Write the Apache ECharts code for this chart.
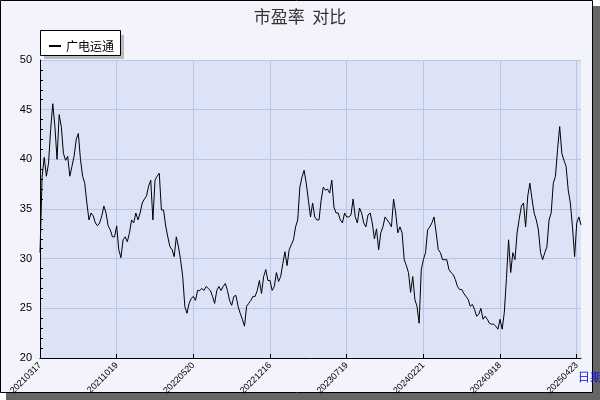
<!DOCTYPE html>
<html><head><meta charset="utf-8">
<script src="https://cdn.jsdelivr.net/npm/echarts@6/dist/echarts.min.js"></script>
<style>html,body{margin:0;padding:0;background:#fff}#c{width:600px;height:400px}</style>
</head><body><div id="c"></div>
<script>
var seriesName = '广电运通';
var tickLabels = ['20210317','20211019','20220520','20221216','20230719','20240221','20240918','20250423'];
var tickStep = 36;
var seg1 = [30.6,38.3,40.2,38.3,39.6,43.0,45.6,43.3,40,44.5,43.3,40.6,39.9,40.3,38.3,39.3,40.3,42,42.6,40,38.3,37.6,35.6,33.9,34.6,34.3,33.6,33.3,33.6,34.3,35.3,34.6,33.3,32.9,32.2,32.2,33.3];
var seg2 = [30.9,30.1,31.9,32.2,31.7,32.6,33.9,33.6,34.6,33.9,34.6,35.6,36,36.3,37.3,37.9,33.9,37.9,38.3,38.6,34.9,34.9,33.3,32.2,31.2,30.9,30.2,32.2,31.2,29.9,28.2,25.2,24.5,25.5,26,26.2];
var seg3 = [25.8,26.8,26.8,27,26.8,27.2,27,26.8,26.2,25.5,26.8,27.2,26.8,27.2,27.5,26.8,25.8,25.3,26.2,26.3,25.2,24.5,23.9,23.2,25.2,25.5,25.8,26.2,26.2,26.8,27.8,26.5,28.2,28.9,27.8,27.8];
var seg4 = [26.8,27.2,28.6,27.7,28.2,29.5,30.7,29.3,30.9,31.4,31.9,33.2,33.9,37.2,38.2,38.9,37.6,35.9,34.2,35.6,34.2,33.9,33.9,35.9,37.2,36.9,37,36.6,37.9,35.2,34.6,34.6,33.9,33.6,34.6,34.2];
var seg5 = [34.2,34.4,36,34.2,33.6,35.1,34.6,33.6,33.2,34.4,34.6,33.6,32,33,30.9,32.6,33.2,34.2,33.9,33.6,33.2,36,34.6,32.6,33.2,32.6,29.9,29.3,28.6,26.6,28.2,25.9,25.2,23.5,28.9,29.9];
var seg6 = [30.6,32.9,33.2,33.6,34.2,32.6,30.9,30.6,29.9,29.9,29.9,28.9,28.6,28.4,27.9,27.2,26.9,26.9,26.5,26.2,25.9,25.2,25.4,24.9,24.2,24.4,25,23.9,24.2,23.9,23.5,23.4,23.4,23.2,22.9,23.9];
var seg7 = [22.9,24.6,28,31.9,28.6,30.6,29.9,32.6,34,35.3,35.6,33.2,36.3,37.6,36,34.6,33.9,32.9,30.6,29.9,30.6,31.2,33.9,34.6,37.6,38.3,41,43.3,40.6,39.9,39.3,36.9,35.6,33.2,30.2,33.6,34.2,33.4];
var values = [].concat(seg1,seg2,seg3,seg4,seg5,seg6,seg7);
var cats = values.map(function(v,i){return String(i);});

var chart = echarts.init(document.getElementById('c'));
chart.setOption({
  animation:false,
  backgroundColor:'#ffffff',
  graphic:[
    {type:'rect',z:-10,shape:{x:6,y:6,width:594,height:394},style:{fill:'#666'}},
    {type:'rect',z:-9,shape:{x:0.5,y:0.5,width:592,height:392},style:{fill:'#f2f3fb',stroke:'#000',lineWidth:1}},
    {type:'rect',z:-8,shape:{x:44,y:35,width:80,height:24},style:{fill:'#bbb'}},
    {type:'rect',z:-7,shape:{x:40.5,y:30.5,width:80,height:25},style:{fill:'#fff',stroke:'#000',lineWidth:1}}
  ],
  title:{text:'市盈率  对比',left:'center',top:3,textStyle:{fontSize:17,fontWeight:'normal',color:'#333',fontFamily:'Noto Sans CJK SC'}},
  legend:{left:44,top:35,itemWidth:12,itemHeight:2,icon:'rect',textStyle:{fontSize:12,color:'#000',fontFamily:'Noto Sans CJK SC'},data:[{name:seriesName,itemStyle:{color:'#000'}}]},
  grid:{left:40,right:19,top:60,bottom:42,outerBoundsMode:'none',containLabel:false,backgroundColor:'#dce3f7',show:true,borderWidth:0},
  xAxis:{type:'category',data:cats,boundaryGap:false,
    name:'日期',nameLocation:'end',nameGap:-26,nameTextStyle:{color:'#0000ee',fontSize:12,padding:[14,0,0,0],verticalAlign:'top'},
    axisLine:{lineStyle:{color:'#000'}},
    axisTick:{interval:function(i){return i%tickStep===0;},length:4,inside:true,lineStyle:{color:'#000'}},
    splitLine:{show:true,interval:function(i){return i%tickStep===0;},lineStyle:{color:'#b8c4e8'}},
    axisLabel:{interval:function(i){return i%tickStep===0;},rotate:45,fontSize:9,color:'#000',margin:6,
      formatter:function(v,i){return tickLabels[i/tickStep]||'';}}},
  yAxis:{type:'value',min:20,max:50,interval:5,
    axisLine:{show:true,lineStyle:{color:'#000'}},
    axisTick:{inside:true,length:5,lineStyle:{color:'#000'}},
    minorTick:{show:true,splitNumber:5,length:3,lineStyle:{color:'#000'}},
    splitLine:{lineStyle:{color:'#b8c4e8'}},
    axisLabel:{fontSize:11,color:'#000',margin:8}},
  series:[{name:seriesName,type:'line',data:values,symbol:'none',lineStyle:{color:'#000',width:1},itemStyle:{color:'#000'}}]
});
</script></body></html>
